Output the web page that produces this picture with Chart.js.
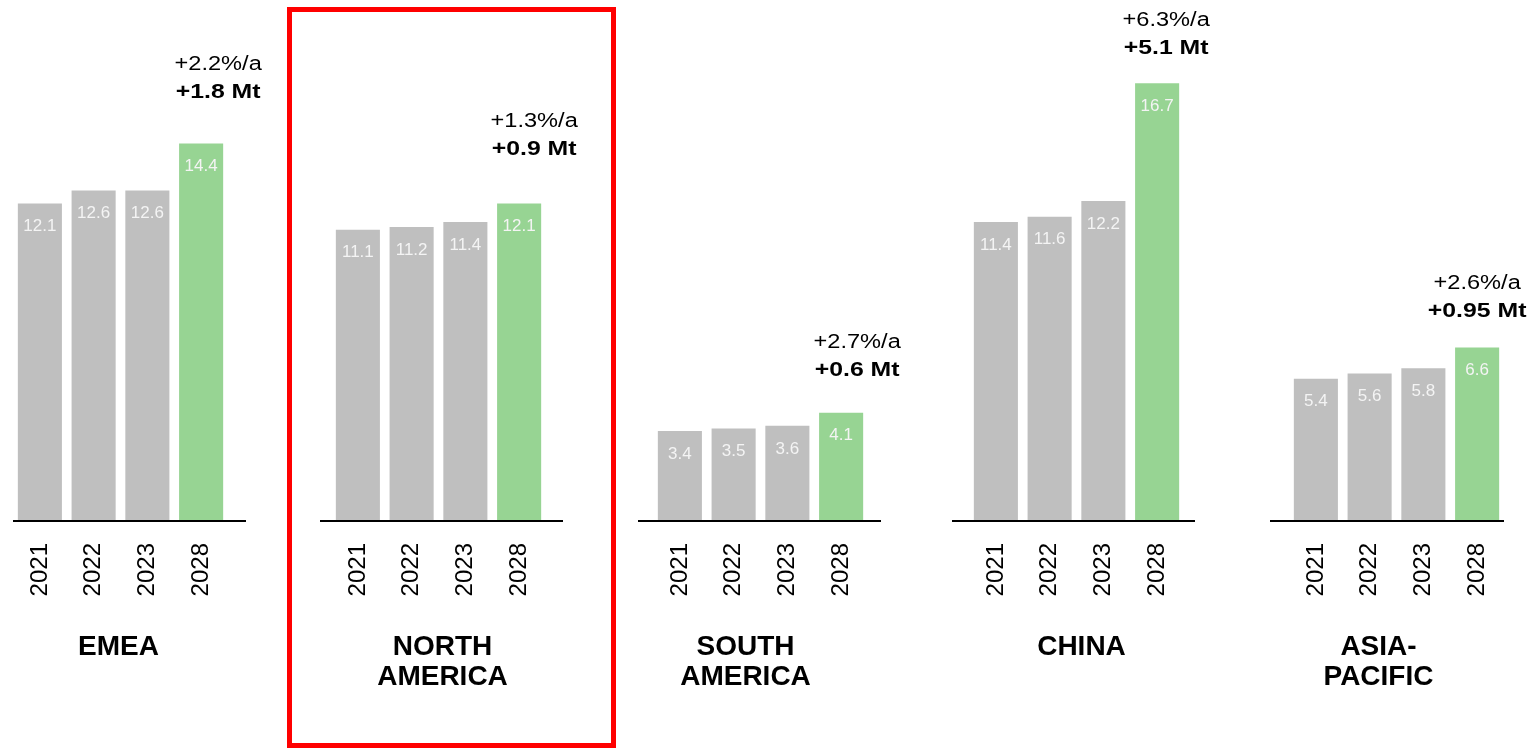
<!DOCTYPE html>
<html>
<head>
<meta charset="utf-8">
<title>Regional volumes 2021-2028</title>
<script src="https://cdn.jsdelivr.net/npm/chart.js@4"></script>
<style>
  html, body { margin: 0; padding: 0; background: #fff; }
  body { width: 1537px; height: 749px; overflow: hidden; position: relative; }
  canvas.panel { position: absolute; top: 0; }
  #focus {
    position: absolute; left: 287px; top: 7px; width: 329px; height: 741px;
    box-sizing: border-box; border: 5px solid #ff0000; pointer-events: none;
  }
</style>
</head>
<body>
<div id="focus"></div>
<script>
// ---- data ----
const years = ['2021', '2022', '2023', '2028'];
const regionNames = [['EMEA'], ['NORTH', 'AMERICA'], ['SOUTH', 'AMERICA'], ['CHINA'], ['ASIA-', 'PACIFIC']];
const emea = [12.1, 12.6, 12.6, 14.4];
const northAmerica = [11.1, 11.2, 11.4, 12.1];
const southAmerica = [3.4, 3.5, 3.6, 4.1];
const china = [11.4, 11.6, 12.2, 16.7];
const asiaPacific = [5.4, 5.6, 5.8, 6.6];
const growthRates = ['+2.2%/a', '+1.3%/a', '+2.7%/a', '+6.3%/a', '+2.6%/a'];
const growthVolumes = ['+1.8 Mt', '+0.9 Mt', '+0.6 Mt', '+5.1 Mt', '+0.95 Mt'];
const seriesByRegion = [emea, northAmerica, southAmerica, china, asiaPacific];

// ---- layout (pixels) ----
const FONT = "'Liberation Sans', Arial, sans-serif";
const GREY = '#BFBFBF';
const GREEN = '#97D493';
const ZONE_W = 215;          // width of the four-bar plot area
const CANVAS_W = 300;
const PAD_L = 40;
const BASELINE = 520;        // y of the value axis zero
const Y_MAX = 19;
const PX_PER_UNIT = 26.15;
// left edge of each plot area, axis line extents, annotation and title offsets
const zoneLeft = [13, 331, 653, 969, 1289];
const axisExt = [[0, 233], [-11, 232], [-15, 228], [-17, 226], [-19, 215]];
const noteOffset = [[17, 45], [15, 49], [16, 37], [9, 29], [0, 30]];
const titleDx = [-2, 4, -15, 5, -18];

const valueLabels = {
  id: 'valueLabels',
  afterDatasetsDraw(chart) {
    const ctx = chart.ctx;
    const meta = chart.getDatasetMeta(0);
    const data = chart.data.datasets[0].data;
    ctx.save();
    ctx.fillStyle = '#f4f4f4';
    ctx.font = '17px ' + FONT;
    ctx.textAlign = 'center';
    ctx.textBaseline = 'middle';
    meta.data.forEach((bar, i) => {
      ctx.fillText(data[i].toFixed(1), bar.x, bar.y + 23);
    });
    ctx.restore();
  }
};

// draws one line of text stretched horizontally
function wideText(ctx, text, x, y, font, sx) {
  ctx.save();
  ctx.translate(x, y);
  ctx.scale(sx, 1);
  ctx.font = font;
  ctx.fillText(text, 0, 0);
  ctx.restore();
}

const panelDecor = {
  id: 'panelDecor',
  afterDraw(chart, args, opts) {
    const ctx = chart.ctx;
    const area = chart.chartArea;
    const k = opts.index;
    ctx.save();

    // axis line
    ctx.strokeStyle = '#000';
    ctx.lineWidth = 1.8;
    ctx.beginPath();
    ctx.moveTo(area.left + axisExt[k][0], area.bottom + 1);
    ctx.lineTo(area.left + axisExt[k][1], area.bottom + 1);
    ctx.stroke();

    // growth note above the 2028 bar
    const last = chart.getDatasetMeta(0).data[3];
    const nx = last.x + noteOffset[k][0];
    const ny = last.y - noteOffset[k][1];
    ctx.fillStyle = '#000';
    ctx.textAlign = 'center';
    ctx.textBaseline = 'alphabetic';
    wideText(ctx, growthRates[k], nx, ny - 28, '20px ' + FONT, 1.18);
    wideText(ctx, growthVolumes[k], nx, ny, 'bold 20px ' + FONT, 1.24);

    // region name under the years
    ctx.font = 'bold 28px ' + FONT;
    const cx = (area.left + area.right) / 2 + titleDx[k];
    regionNames[k].forEach((line, i) => {
      ctx.fillText(line, cx, area.bottom + 135 + i * 30);
    });
    ctx.restore();
  }
};

seriesByRegion.forEach((values, k) => {
  const cv = document.createElement('canvas');
  cv.className = 'panel';
  cv.width = CANVAS_W;
  cv.height = 749;
  cv.style.left = (zoneLeft[k] - PAD_L) + 'px';
  document.body.appendChild(cv);

  new Chart(cv, {
    type: 'bar',
    data: {
      labels: years,
      datasets: [{
        data: values,
        backgroundColor: years.map((y, i) => i === years.length - 1 ? GREEN : GREY),
        borderWidth: 0,
        categoryPercentage: 1,
        barPercentage: 0.82
      }]
    },
    options: {
      responsive: false,
      devicePixelRatio: 1,
      animation: false,
      events: [],
      layout: {
        padding: {
          left: PAD_L,
          right: CANVAS_W - PAD_L - ZONE_W,
          top: BASELINE - Y_MAX * PX_PER_UNIT,
          bottom: 0
        }
      },
      plugins: {
        legend: { display: false },
        tooltip: { enabled: false },
        panelDecor: { index: k }
      },
      scales: {
        x: {
          type: 'category',
          offset: true,
          grid: { display: false, drawTicks: false },
          border: { display: false },
          ticks: {
            autoSkip: false,
            minRotation: 90,
            maxRotation: 90,
            padding: 23,
            color: '#000',
            font: { family: FONT, size: 24 }
          },
          afterFit(scale) { scale.height = 749 - BASELINE; }
        },
        y: { display: false, min: 0, max: Y_MAX }
      }
    },
    plugins: [valueLabels, panelDecor]
  });
});
</script>
</body>
</html>
